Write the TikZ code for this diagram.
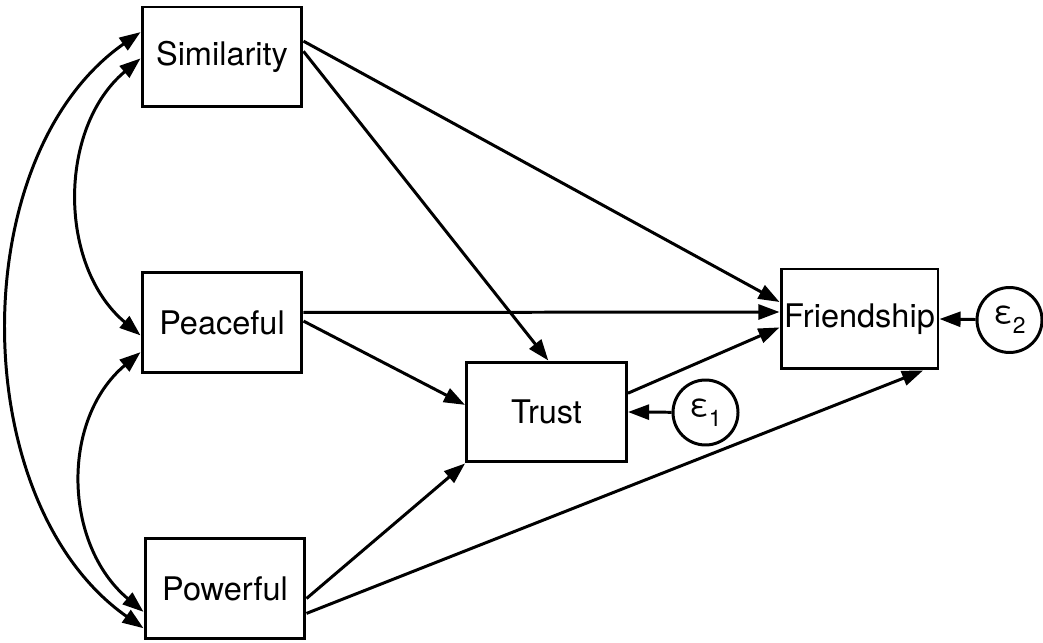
\documentclass[tikz,border=0pt]{standalone}
\usepackage{fontspec}
\setmainfont{TeX Gyre Heros}
\usetikzlibrary{arrows.meta}
\begin{document}
\begin{tikzpicture}[x=0.02cm, y=0.02cm, >={Triangle[length=12pt,width=8.5pt]}, line width=1.7pt,
    var/.style={draw, minimum width=3.2cm, minimum height=2cm, inner sep=0pt, font=\fontsize{18.5}{22}\selectfont},
    err/.style={draw, circle, minimum size=1.3cm, inner sep=0pt, font=\fontsize{18}{22}\selectfont}]
\useasboundingbox (0,0) rectangle (1043,642);

\node[var] (sim) at (222,585){Similarity};
\node[var] (pea) at (222,319.5){Peaceful};
\node[var] (pow) at (225,53.5){Powerful};
\node[var] (tru) at (546.5,230){Trust};
\node[var, minimum width=3.14cm] (fri) at (859.5,323){Friendship};
\node[err] (e1) at (705.5,229.5){ε\raisebox{-.6ex}{\fontsize{13}{14}\selectfont 1}};
\node[err] (e2) at (1009.5,322){ε\raisebox{-.6ex}{\fontsize{13}{14}\selectfont 2}};

\draw[->](sim.11)--(fri.168);
\draw[->](sim.4)--(tru.88);
\draw[->](pea.7)--(fri.175);
\draw[->](pea.1)--(tru.175);
\draw[->](tru.13)--(fri.186);
\draw[->](pow.-7)--(tru.south west);
\draw[->](pow.-17)--(fri.-39);
\draw[->](e1)--(tru.east);
\draw[->](e2)--(fri.east);

\draw[<->](sim.181) to[out=220, in=140, looseness=1.0] (pea.189);
\draw[<->](pea.200) to[out=220, in=140, looseness=1.03] (pow.196);
\draw[<->](sim.163) to[out=215, in=145, looseness=0.93] (pow.206);

\end{tikzpicture}
\end{document}
